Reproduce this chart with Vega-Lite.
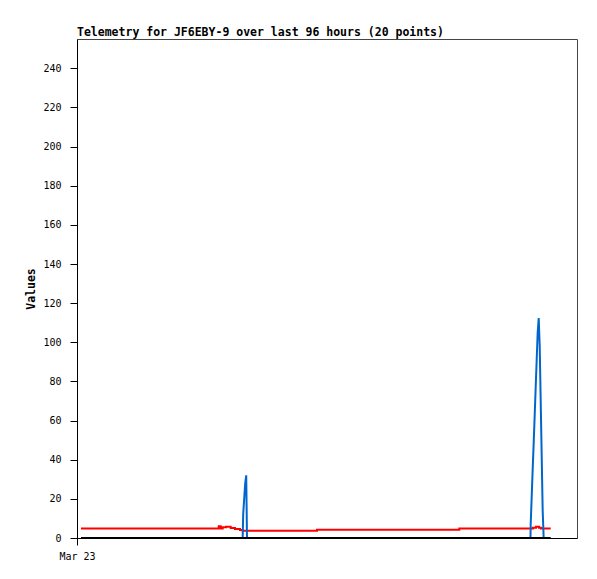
{
  "$schema": "https://vega.github.io/schema/vega-lite/v6.json",
  "width": 500,
  "height": 499,
  "autosize": {"type": "none"},
  "padding": {"left": 77, "top": 39, "right": 20, "bottom": 41},
  "background": "white",
  "config": {
    "view": {"stroke": "#444444", "strokeWidth": 1},
    "axis": {"grid": false, "domainColor": "#000000", "tickColor": "#000000", "labelColor": "#000000", "titleColor": "#000000", "labelFont": "DejaVu Sans Mono", "labelFontSize": 10, "titleFont": "DejaVu Sans Mono", "titleFontSize": 11.5, "titleFontWeight": "bold", "tickSize": 7, "domainWidth": 1, "tickWidth": 1}
  },
  "title": {"text": "Telemetry for JF6EBY-9 over last 96 hours (20 points)", "anchor": "start", "frame": "group", "font": "DejaVu Sans Mono", "fontSize": 11.5, "fontWeight": "bold", "color": "#000000", "baseline": "bottom", "offset": -10},
  "data": {"values": [
    {"h": 0.77, "v": 4.8, "s": "red"},
    {"h": 27.21, "v": 6.0, "s": "red"},
    {"h": 27.59, "v": 4.8, "s": "red"},
    {"h": 27.97, "v": 5.5, "s": "red"},
    {"h": 28.61, "v": 5.8, "s": "red"},
    {"h": 29.51, "v": 5.1, "s": "red"},
    {"h": 30.34, "v": 4.6, "s": "red"},
    {"h": 31.30, "v": 4.1, "s": "red"},
    {"h": 31.81, "v": 3.7, "s": "red"},
    {"h": 46.08, "v": 4.2, "s": "red"},
    {"h": 73.40, "v": 4.8, "s": "red"},
    {"h": 87.55, "v": 5.3, "s": "red"},
    {"h": 88.13, "v": 5.8, "s": "red"},
    {"h": 88.70, "v": 5.3, "s": "red"},
    {"h": 89.09, "v": 4.8, "s": "red"},
    {"h": 90.95, "v": 4.8, "s": "red"},
    {"h": 31.81, "v": 0, "s": "blue"},
    {"h": 31.91, "v": 12.3, "s": "blue"},
    {"h": 32.10, "v": 20, "s": "blue"},
    {"h": 32.30, "v": 28, "s": "blue"},
    {"h": 32.49, "v": 32, "s": "blue"},
    {"h": 32.64, "v": 0, "s": "blue"},
    {"h": 87.07, "v": 0, "s": "blue"},
    {"h": 87.11, "v": 7, "s": "blue"},
    {"h": 87.30, "v": 21, "s": "blue"},
    {"h": 87.49, "v": 35, "s": "blue"},
    {"h": 87.69, "v": 49, "s": "blue"},
    {"h": 87.88, "v": 63, "s": "blue"},
    {"h": 88.07, "v": 77, "s": "blue"},
    {"h": 88.26, "v": 91, "s": "blue"},
    {"h": 88.45, "v": 105, "s": "blue"},
    {"h": 88.65, "v": 112.4, "s": "blue"},
    {"h": 88.84, "v": 98, "s": "blue"},
    {"h": 89.03, "v": 70, "s": "blue"},
    {"h": 89.22, "v": 42, "s": "blue"},
    {"h": 89.41, "v": 14, "s": "blue"},
    {"h": 89.60, "v": 0, "s": "blue"},
    {"h": 0.77, "v": 0, "s": "black"},
    {"h": 90.95, "v": 0, "s": "black"}
  ]},
  "encoding": {
    "x": {"field": "h", "type": "quantitative", "scale": {"domain": [0, 96], "nice": false, "zero": false},
      "axis": {"title": null, "values": [0], "labelExpr": "'Mar 23'", "labelPadding": 6, "labelFlush": false}},
    "y": {"field": "v", "type": "quantitative", "scale": {"domain": [0, 255], "nice": false},
      "axis": {"title": "Values", "values": [0, 20, 40, 60, 80, 100, 120, 140, 160, 180, 200, 220, 240], "labelPadding": 9, "titlePadding": 6}}
  },
  "layer": [
    {"transform": [{"filter": "datum.s === 'red'"}], "mark": {"type": "line", "interpolate": "step-after", "color": "#ff0000", "strokeWidth": 2, "clip": true}},
    {"transform": [{"filter": "datum.s === 'blue'"}], "mark": {"type": "line", "color": "#0066cc", "strokeWidth": 2, "clip": true}},
    {"transform": [{"filter": "datum.s === 'black'"}], "mark": {"type": "line", "color": "#000000", "strokeWidth": 2, "clip": true}}
  ]
}
